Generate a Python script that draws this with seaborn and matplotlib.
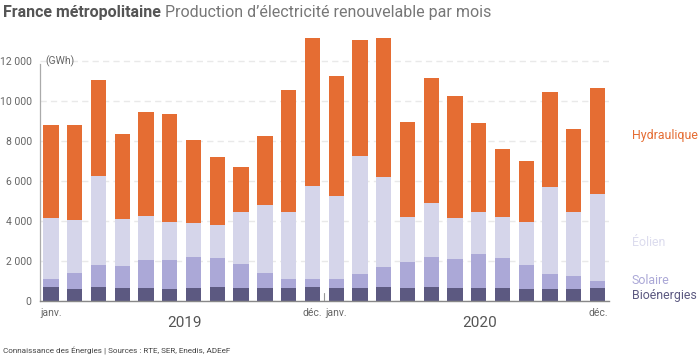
import matplotlib
matplotlib.use("Agg")
import matplotlib.pyplot as plt
import numpy as np
import pandas as pd
import seaborn as sns

#%% Data (GWh, France métropolitaine, 2019-2020)
months = ['janv.', 'févr.', 'mars', 'avr.', 'mai', 'juin', 'juil.', 'août', 'sept.', 'oct.', 'nov.', 'déc.'] * 2
years = ['2019', '2020']
bioenergies = [667, 600, 683, 617, 650, 583, 617, 683, 617, 617, 633, 667,
               650, 617, 683, 633, 667, 617, 633, 617, 583, 583, 600, 633]
solaire = [420, 800, 1120, 1120, 1380, 1450, 1570, 1450, 1220, 780, 450, 420,
           430, 720, 1000, 1280, 1520, 1470, 1700, 1520, 1200, 750, 650, 350]
eolien = [3030, 2630, 4430, 2330, 2220, 1880, 1720, 1650, 2620, 3370, 3370, 4670,
          4180, 5920, 4520, 2270, 2680, 2050, 2120, 2030, 2170, 4350, 3180, 4370]
hydraulique = [4650, 4770, 4800, 4270, 5180, 5430, 4130, 3380, 2220, 3470, 6080, 7400,
               5970, 5800, 6950, 4730, 6270, 6080, 4420, 3400, 3050, 4730, 4130, 5300]
yticks = [0, 2000, 4000, 6000, 8000, 10000, 12000]
ytick_labels = ['0', '2 000', '4 000', '6 000', '8 000', '10 000', '12 000']

series = ['Bioénergies', 'Solaire', 'Éolien', 'Hydraulique']
colors = {'Bioénergies': '#5c5981', 'Solaire': '#aba8d7',
          'Éolien': '#d5d5ea', 'Hydraulique': '#e56d33'}
label_colors = {'Bioénergies': '#5c5981', 'Solaire': '#aba8d7',
                'Éolien': '#dcdcee', 'Hydraulique': '#e56d33'}

df = pd.DataFrame({'idx': range(len(months)),
                   'Bioénergies': bioenergies, 'Solaire': solaire,
                   'Éolien': eolien, 'Hydraulique': hydraulique})
# cumulative tops for stacking
cum = df[series].cumsum(axis=1)
cum['idx'] = df['idx']

#%% Figure
sns.set_style("white")
plt.rcParams['font.family'] = ['Roboto', 'DejaVu Sans']

W, H = 700, 357
fig = plt.figure(figsize=(7, 3.57), dpi=100)
ax = fig.add_axes([40 / W, 1 - 300.7 / H, 569 / W, 266 / H])

# draw tallest first so the lower stacks cover it
for s in series[::-1]:
    sns.barplot(data=cum, x='idx', y=s, color=colors[s], saturation=1,
                width=0.645, linewidth=0, ax=ax)

ax.set_xlim(-0.463, 23.48)
ax.set_ylim(0, 13300)
ax.set_yticks(yticks)
ax.set_yticklabels(ytick_labels)
ax.set_xticks([])
ax.set_xlabel('')
ax.set_ylabel('')
ax.tick_params(axis='y', length=0, pad=6, labelsize=7.5, labelcolor='#666666')

ax.set_axisbelow(True)
ax.yaxis.grid(True, color='#e9e9e9', linewidth=1, linestyle=(0, (4.5, 3)))
for sp in ['top', 'right']:
    ax.spines[sp].set_visible(False)
ax.spines['left'].set_color('#aaaaaa')
ax.spines['left'].set_linewidth(0.9)
ax.spines['left'].set_bounds(0, 11850)
ax.spines['bottom'].set_color('#888888')
ax.spines['bottom'].set_linewidth(1)
ax.spines['bottom'].set_zorder(5)

# separator between years
ax.plot([11.5, 11.5], [0, 400], color='#999999', linewidth=0.8, zorder=5)

# month and year labels
tr = ax.get_xaxis_transform()
ax.text(-0.47, -0.045, months[0], transform=tr, ha='left', va='center', fontsize=7.5, color='#666666')
ax.text(11.4, -0.045, months[11], transform=tr, ha='right', va='center', fontsize=7.5, color='#666666')
ax.text(11.55, -0.045, months[12], transform=tr, ha='left', va='center', fontsize=7.5, color='#666666')
ax.text(23.45, -0.045, months[23], transform=tr, ha='right', va='center', fontsize=7.5, color='#666666')
ax.text(5.6, -0.083, years[0], transform=tr, ha='center', va='center', fontsize=11, color='#555555')
ax.text(18.05, -0.083, years[1], transform=tr, ha='center', va='center', fontsize=11, color='#555555')

# unit
fig.text(45 / W, 1 - 61 / H, '(GWh)', ha='left', va='center', fontsize=7.5, color='#666666')

# direct labels on the right
label_y = {'Hydraulique': 135, 'Éolien': 242, 'Solaire': 281, 'Bioénergies': 296}
for s in series:
    fig.text(632 / W, 1 - label_y[s] / H, s, ha='left', va='center', fontsize=8.9,
             color=label_colors[s])

# title in two parts
t1 = fig.text(3 / W, 1 - 12 / H, 'France métropolitaine', ha='left', va='center',
              fontsize=11.5, fontweight='bold', color='#555555')
fig.canvas.draw()
bb = t1.get_window_extent(fig.canvas.get_renderer())
fig.text(bb.x1 / W + 4 / W, 1 - 12 / H, 'Production d’électricité renouvelable par mois',
         ha='left', va='center', fontsize=11.5, color='#777777')

# footer
fig.text(3 / W, 1 - 351 / H, 'Connaissance des Énergies | Sources : RTE, SER, Enedis, ADEeF',
         ha='left', va='center', fontsize=5.9, color='#444444')

fig.savefig('out.png', dpi=100)
